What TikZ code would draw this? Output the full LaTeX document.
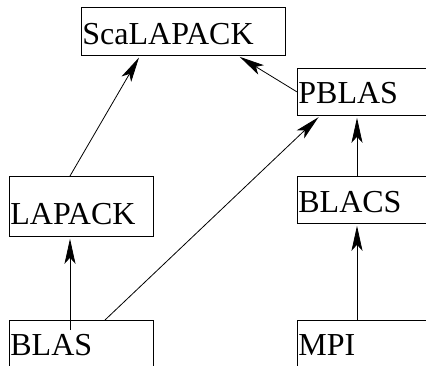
\documentclass[tikz,border=0pt]{standalone}
\usepackage{fontspec}
\setmainfont{Liberation Serif}
\usepackage{tikz}
\usetikzlibrary{arrows.meta,positioning}

\begin{document}
\begin{tikzpicture}[
    x=1pt, y=1pt,
    lib/.style={rectangle, draw=black, line width=0.8pt, anchor=north west, inner xsep=1pt, inner ysep=0pt, align=left, text height=23pt, text depth=0pt, minimum height=47pt, font=\fontsize{32}{36}\selectfont},
    uses/.style={-{Stealth[length=25pt, width=11pt, inset=6pt]}, line width=0.8pt, shorten >=2pt}
]
    \useasboundingbox (0,0) rectangle (426,365);
    \clip (0,0) rectangle (426,365);

    \node[lib, text width=202pt, minimum width=204pt, minimum height=48pt, text height=26pt] (sca) at (81,358) {ScaLAPACK};
    \node[lib, text width=138pt, minimum width=140pt] (pblas) at (297,297) {PBLAS};
    \node[lib, text width=142pt, minimum width=144pt, minimum height=60pt, text height=36pt] (lapack) at (9,189) {LAPACK};
    \node[lib, text width=138pt, minimum width=140pt, text height=25pt] (blacs) at (297,189) {BLACS};
    \node[lib, text width=142pt, minimum width=144pt] (blas) at (9,45) {BLAS};
    \node[lib, text width=138pt, minimum width=140pt] (mpi) at (297,45) {MPI};

    \draw[uses] ([xshift=61pt]lapack.north west) -- ([xshift=59pt]sca.south west);
    \draw[uses] (pblas.west) -- ([xshift=157pt]sca.south west);
    \draw[uses] ([xshift=61pt, yshift=-10pt]blas.north west) -- ([xshift=61pt]lapack.south west);
    \draw[uses] ([xshift=96pt]blas.north west) -- ([xshift=23pt]pblas.south west);
    \draw[uses] ([xshift=60pt]blacs.north west) -- ([xshift=60pt]pblas.south west);
    \draw[uses] ([xshift=60pt]mpi.north west) -- ([xshift=60pt]blacs.south west);
\end{tikzpicture}
\end{document}
